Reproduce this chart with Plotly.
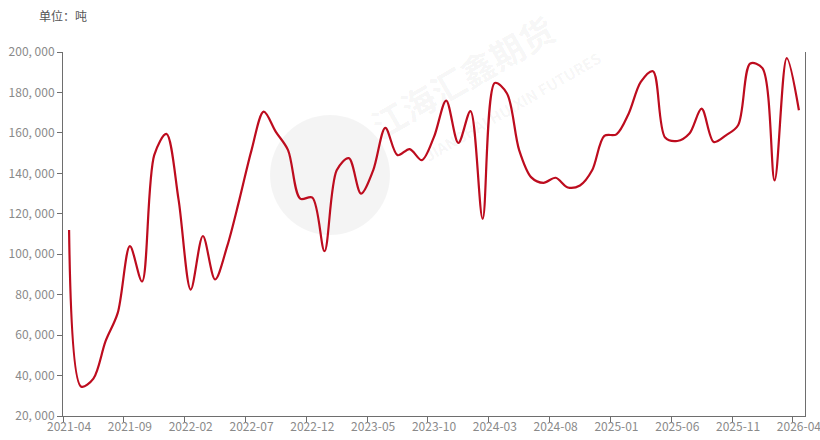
import plotly.graph_objects as go
import pandas as pd

months = pd.date_range("2021-04-01", "2026-04-01", freq="MS").strftime("%Y-%m").tolist()
values = [
    112000, 34500, 38500, 57000, 71000, 104000, 86500, 149000, 159500, 127000,
    82500, 109000, 87500, 104000, 127000, 151500, 170500, 160500, 151500, 127500,
    128000, 101500, 141500, 147500, 130000, 141500, 162500, 149000, 152000, 146500,
    158000, 176000, 155000, 170800, 117500, 184700, 179500, 151500, 138000, 135300,
    137800, 133000, 134000, 141500, 158500, 159300, 169500, 185200, 190500, 157700,
    156000, 159700, 172000, 155500, 158800, 163800, 194300, 192000, 136500, 197000,
    171200,
]
y_ticks = [20000, 40000, 60000, 80000, 100000, 120000, 140000, 160000, 180000, 200000]
unit_label = "单位：吨"

fig = go.Figure()
fig.add_trace(go.Scatter(
    x=months, y=values, mode="lines",
    line=dict(color="#BD0C1E", width=2.2, shape="spline", smoothing=0.9),
    hoverinfo="x+y", showlegend=False,
))

font_family = "Noto Sans CJK SC, Noto Sans, sans-serif"
fig.update_layout(
    width=820, height=440,
    margin=dict(l=63, r=15, t=52, b=24),
    paper_bgcolor="white", plot_bgcolor="white",
    font=dict(family=font_family, size=12, color="#8a8a8a"),
    xaxis=dict(
        type="category", range=[-0.5, len(months) - 0.5],
        tickmode="linear", tick0=0, dtick=5, tickson="boundaries",
        tickangle=0, automargin=False,
        showline=True, linecolor="#6e6e6e", linewidth=1,
        ticks="outside", ticklen=5, tickcolor="#6e6e6e",
        showgrid=False, zeroline=False,
        tickfont=dict(size=12, color="#8a8a8a"),
    ),
    yaxis=dict(
        range=[20000, 200000], tickvals=y_ticks, automargin=False,
        ticktext=[f"{v:,}".replace(",", ", ") for v in y_ticks],
        showline=True, mirror=True, linecolor="#6e6e6e", linewidth=1,
        ticks="outside", ticklen=5, tickcolor="#6e6e6e",
        showgrid=False, zeroline=False,
        tickfont=dict(size=12, color="#8a8a8a"),
    ),
    shapes=[
        dict(type="circle", xref="paper", yref="paper", layer="below",
             x0=(270 - 63) / 742, x1=(390 - 63) / 742,
             y0=(416 - 235) / 364, y1=(416 - 115) / 364,
             fillcolor="rgba(0,0,0,0.045)", line=dict(width=0)),
    ],
    annotations=[
        dict(text=unit_label, xref="paper", yref="paper", x=-0.035, y=1.0,
             yshift=26, xanchor="left", yanchor="bottom", showarrow=False,
             font=dict(size=12, color="#555555", family=font_family)),
        dict(text="<b>江海汇鑫期货</b>", xref="paper", yref="paper",
             x=(462 - 63) / 742, y=(416 - 76) / 364,
             xanchor="center", yanchor="middle",
             showarrow=False, textangle=-30,
             font=dict(size=34, color="rgba(0,0,0,0.05)", family=font_family)),
        dict(text="<b>JIANGHAI HUIXIN FUTURES</b>", xref="paper", yref="paper",
             x=(512 - 63) / 742, y=(416 - 106) / 364,
             xanchor="center", yanchor="middle",
             showarrow=False, textangle=-30,
             font=dict(size=15, color="rgba(0,0,0,0.05)", family=font_family)),
    ],
)

fig.write_html("out.html")
